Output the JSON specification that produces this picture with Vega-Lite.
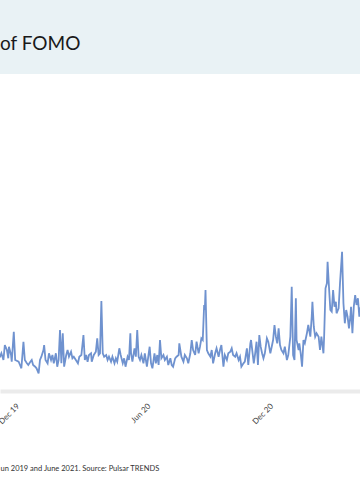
{
  "$schema": "https://vega.github.io/schema/vega-lite/v6.json",
  "width": 360,
  "height": 426,
  "autosize": {"type": "none"},
  "padding": {"top": 74, "left": 0, "right": 0, "bottom": 0},
  "background": "#e9f2f5",
  "view": {"fill": "#ffffff", "stroke": null},
  "title": {"text": "of FOMO", "anchor": "start", "frame": "group", "orient": "top", "offset": 5, "baseline": "alphabetic", "fontSize": 19, "font": "Lato", "fontWeight": "normal", "color": "#1a1a1a"},
  "data": {"values": [
    {"date": "2019-11-07", "mentions": 330},
    {"date": "2019-11-09", "mentions": 343},
    {"date": "2019-11-11", "mentions": 377},
    {"date": "2019-11-14", "mentions": 310},
    {"date": "2019-11-16", "mentions": 460},
    {"date": "2019-11-19", "mentions": 410},
    {"date": "2019-11-21", "mentions": 327},
    {"date": "2019-11-22", "mentions": 443},
    {"date": "2019-11-25", "mentions": 360},
    {"date": "2019-11-26", "mentions": 293},
    {"date": "2019-11-29", "mentions": 593},
    {"date": "2019-12-01", "mentions": 310},
    {"date": "2019-12-06", "mentions": 293},
    {"date": "2019-12-08", "mentions": 260},
    {"date": "2019-12-10", "mentions": 227},
    {"date": "2019-12-13", "mentions": 493},
    {"date": "2019-12-15", "mentions": 310},
    {"date": "2019-12-18", "mentions": 277},
    {"date": "2019-12-20", "mentions": 260},
    {"date": "2019-12-23", "mentions": 293},
    {"date": "2019-12-25", "mentions": 310},
    {"date": "2019-12-27", "mentions": 260},
    {"date": "2019-12-30", "mentions": 243},
    {"date": "2020-01-01", "mentions": 227},
    {"date": "2020-01-04", "mentions": 177},
    {"date": "2020-01-06", "mentions": 310},
    {"date": "2020-01-08", "mentions": 343},
    {"date": "2020-01-11", "mentions": 410},
    {"date": "2020-01-12", "mentions": 460},
    {"date": "2020-01-14", "mentions": 310},
    {"date": "2020-01-17", "mentions": 277},
    {"date": "2020-01-19", "mentions": 377},
    {"date": "2020-01-22", "mentions": 310},
    {"date": "2020-01-24", "mentions": 360},
    {"date": "2020-01-26", "mentions": 277},
    {"date": "2020-01-29", "mentions": 377},
    {"date": "2020-01-31", "mentions": 243},
    {"date": "2020-02-02", "mentions": 310},
    {"date": "2020-02-04", "mentions": 610},
    {"date": "2020-02-06", "mentions": 277},
    {"date": "2020-02-08", "mentions": 577},
    {"date": "2020-02-10", "mentions": 243},
    {"date": "2020-02-13", "mentions": 360},
    {"date": "2020-02-15", "mentions": 410},
    {"date": "2020-02-17", "mentions": 343},
    {"date": "2020-02-20", "mentions": 393},
    {"date": "2020-02-22", "mentions": 327},
    {"date": "2020-02-24", "mentions": 343},
    {"date": "2020-02-27", "mentions": 310},
    {"date": "2020-03-01", "mentions": 277},
    {"date": "2020-03-03", "mentions": 343},
    {"date": "2020-03-06", "mentions": 360},
    {"date": "2020-03-09", "mentions": 560},
    {"date": "2020-03-11", "mentions": 310},
    {"date": "2020-03-13", "mentions": 360},
    {"date": "2020-03-15", "mentions": 293},
    {"date": "2020-03-17", "mentions": 360},
    {"date": "2020-03-20", "mentions": 377},
    {"date": "2020-03-21", "mentions": 293},
    {"date": "2020-03-24", "mentions": 360},
    {"date": "2020-03-27", "mentions": 393},
    {"date": "2020-03-29", "mentions": 527},
    {"date": "2020-03-31", "mentions": 360},
    {"date": "2020-04-02", "mentions": 377},
    {"date": "2020-04-04", "mentions": 900},
    {"date": "2020-04-06", "mentions": 377},
    {"date": "2020-04-08", "mentions": 343},
    {"date": "2020-04-11", "mentions": 360},
    {"date": "2020-04-13", "mentions": 310},
    {"date": "2020-04-15", "mentions": 343},
    {"date": "2020-04-18", "mentions": 293},
    {"date": "2020-04-20", "mentions": 343},
    {"date": "2020-04-23", "mentions": 277},
    {"date": "2020-04-25", "mentions": 327},
    {"date": "2020-04-27", "mentions": 293},
    {"date": "2020-04-30", "mentions": 427},
    {"date": "2020-05-02", "mentions": 360},
    {"date": "2020-05-05", "mentions": 277},
    {"date": "2020-05-07", "mentions": 327},
    {"date": "2020-05-09", "mentions": 243},
    {"date": "2020-05-12", "mentions": 343},
    {"date": "2020-05-14", "mentions": 310},
    {"date": "2020-05-16", "mentions": 577},
    {"date": "2020-05-17", "mentions": 377},
    {"date": "2020-05-19", "mentions": 293},
    {"date": "2020-05-22", "mentions": 427},
    {"date": "2020-05-24", "mentions": 343},
    {"date": "2020-05-26", "mentions": 610},
    {"date": "2020-05-28", "mentions": 343},
    {"date": "2020-05-30", "mentions": 310},
    {"date": "2020-06-01", "mentions": 360},
    {"date": "2020-06-04", "mentions": 277},
    {"date": "2020-06-06", "mentions": 377},
    {"date": "2020-06-09", "mentions": 243},
    {"date": "2020-06-11", "mentions": 343},
    {"date": "2020-06-13", "mentions": 443},
    {"date": "2020-06-15", "mentions": 277},
    {"date": "2020-06-17", "mentions": 227},
    {"date": "2020-06-20", "mentions": 377},
    {"date": "2020-06-22", "mentions": 277},
    {"date": "2020-06-24", "mentions": 360},
    {"date": "2020-06-26", "mentions": 260},
    {"date": "2020-06-28", "mentions": 510},
    {"date": "2020-06-30", "mentions": 327},
    {"date": "2020-07-03", "mentions": 360},
    {"date": "2020-07-05", "mentions": 310},
    {"date": "2020-07-08", "mentions": 343},
    {"date": "2020-07-10", "mentions": 260},
    {"date": "2020-07-13", "mentions": 327},
    {"date": "2020-07-15", "mentions": 260},
    {"date": "2020-07-17", "mentions": 243},
    {"date": "2020-07-20", "mentions": 327},
    {"date": "2020-07-22", "mentions": 343},
    {"date": "2020-07-25", "mentions": 360},
    {"date": "2020-07-26", "mentions": 477},
    {"date": "2020-07-29", "mentions": 343},
    {"date": "2020-08-01", "mentions": 293},
    {"date": "2020-08-03", "mentions": 360},
    {"date": "2020-08-06", "mentions": 327},
    {"date": "2020-08-08", "mentions": 277},
    {"date": "2020-08-11", "mentions": 377},
    {"date": "2020-08-13", "mentions": 510},
    {"date": "2020-08-15", "mentions": 410},
    {"date": "2020-08-18", "mentions": 360},
    {"date": "2020-08-20", "mentions": 493},
    {"date": "2020-08-23", "mentions": 377},
    {"date": "2020-08-25", "mentions": 443},
    {"date": "2020-08-27", "mentions": 527},
    {"date": "2020-08-29", "mentions": 510},
    {"date": "2020-08-31", "mentions": 860},
    {"date": "2020-09-01", "mentions": 810},
    {"date": "2020-09-02", "mentions": 1010},
    {"date": "2020-09-04", "mentions": 410},
    {"date": "2020-09-06", "mentions": 377},
    {"date": "2020-09-09", "mentions": 343},
    {"date": "2020-09-11", "mentions": 410},
    {"date": "2020-09-13", "mentions": 277},
    {"date": "2020-09-16", "mentions": 377},
    {"date": "2020-09-18", "mentions": 427},
    {"date": "2020-09-21", "mentions": 343},
    {"date": "2020-09-23", "mentions": 410},
    {"date": "2020-09-25", "mentions": 460},
    {"date": "2020-09-28", "mentions": 243},
    {"date": "2020-09-30", "mentions": 360},
    {"date": "2020-10-03", "mentions": 310},
    {"date": "2020-10-05", "mentions": 377},
    {"date": "2020-10-08", "mentions": 393},
    {"date": "2020-10-10", "mentions": 427},
    {"date": "2020-10-12", "mentions": 360},
    {"date": "2020-10-15", "mentions": 343},
    {"date": "2020-10-17", "mentions": 377},
    {"date": "2020-10-20", "mentions": 310},
    {"date": "2020-10-22", "mentions": 343},
    {"date": "2020-10-24", "mentions": 243},
    {"date": "2020-10-27", "mentions": 277},
    {"date": "2020-10-29", "mentions": 293},
    {"date": "2020-11-01", "mentions": 427},
    {"date": "2020-11-03", "mentions": 260},
    {"date": "2020-11-06", "mentions": 477},
    {"date": "2020-11-07", "mentions": 510},
    {"date": "2020-11-09", "mentions": 393},
    {"date": "2020-11-11", "mentions": 277},
    {"date": "2020-11-13", "mentions": 377},
    {"date": "2020-11-15", "mentions": 493},
    {"date": "2020-11-17", "mentions": 260},
    {"date": "2020-11-19", "mentions": 560},
    {"date": "2020-11-21", "mentions": 443},
    {"date": "2020-11-23", "mentions": 377},
    {"date": "2020-11-25", "mentions": 327},
    {"date": "2020-11-27", "mentions": 377},
    {"date": "2020-11-30", "mentions": 527},
    {"date": "2020-12-02", "mentions": 493},
    {"date": "2020-12-05", "mentions": 377},
    {"date": "2020-12-07", "mentions": 443},
    {"date": "2020-12-09", "mentions": 510},
    {"date": "2020-12-11", "mentions": 660},
    {"date": "2020-12-13", "mentions": 543},
    {"date": "2020-12-15", "mentions": 477},
    {"date": "2020-12-17", "mentions": 627},
    {"date": "2020-12-19", "mentions": 460},
    {"date": "2020-12-21", "mentions": 410},
    {"date": "2020-12-24", "mentions": 377},
    {"date": "2020-12-26", "mentions": 443},
    {"date": "2020-12-29", "mentions": 310},
    {"date": "2020-12-31", "mentions": 360},
    {"date": "2021-01-03", "mentions": 543},
    {"date": "2021-01-05", "mentions": 1043},
    {"date": "2021-01-07", "mentions": 360},
    {"date": "2021-01-09", "mentions": 310},
    {"date": "2021-01-11", "mentions": 927},
    {"date": "2021-01-12", "mentions": 510},
    {"date": "2021-01-15", "mentions": 410},
    {"date": "2021-01-16", "mentions": 477},
    {"date": "2021-01-18", "mentions": 377},
    {"date": "2021-01-20", "mentions": 243},
    {"date": "2021-01-22", "mentions": 510},
    {"date": "2021-01-24", "mentions": 477},
    {"date": "2021-01-27", "mentions": 577},
    {"date": "2021-01-29", "mentions": 660},
    {"date": "2021-02-01", "mentions": 543},
    {"date": "2021-02-03", "mentions": 743},
    {"date": "2021-02-04", "mentions": 893},
    {"date": "2021-02-06", "mentions": 643},
    {"date": "2021-02-08", "mentions": 543},
    {"date": "2021-02-10", "mentions": 577},
    {"date": "2021-02-13", "mentions": 543},
    {"date": "2021-02-15", "mentions": 410},
    {"date": "2021-02-17", "mentions": 543},
    {"date": "2021-02-20", "mentions": 377},
    {"date": "2021-02-21", "mentions": 543},
    {"date": "2021-02-23", "mentions": 1027},
    {"date": "2021-02-25", "mentions": 1077},
    {"date": "2021-02-26", "mentions": 1293},
    {"date": "2021-02-28", "mentions": 1043},
    {"date": "2021-03-02", "mentions": 810},
    {"date": "2021-03-04", "mentions": 793},
    {"date": "2021-03-06", "mentions": 1010},
    {"date": "2021-03-08", "mentions": 843},
    {"date": "2021-03-10", "mentions": 893},
    {"date": "2021-03-11", "mentions": 777},
    {"date": "2021-03-14", "mentions": 827},
    {"date": "2021-03-16", "mentions": 1077},
    {"date": "2021-03-19", "mentions": 1393},
    {"date": "2021-03-21", "mentions": 877},
    {"date": "2021-03-23", "mentions": 677},
    {"date": "2021-03-25", "mentions": 810},
    {"date": "2021-03-27", "mentions": 743},
    {"date": "2021-03-29", "mentions": 627},
    {"date": "2021-03-31", "mentions": 743},
    {"date": "2021-04-01", "mentions": 843},
    {"date": "2021-04-03", "mentions": 577},
    {"date": "2021-04-05", "mentions": 843},
    {"date": "2021-04-07", "mentions": 960},
    {"date": "2021-04-09", "mentions": 860},
    {"date": "2021-04-11", "mentions": 927},
    {"date": "2021-04-13", "mentions": 743},
    {"date": "2021-04-14", "mentions": 810},
    {"date": "2021-04-16", "mentions": 780}
  ]},
  "mark": {"type": "line", "color": "#6f92cf", "strokeWidth": 1.8, "clip": true},
  "encoding": {
    "x": {
      "field": "date",
      "type": "temporal",
      "scale": {"type": "utc", "domain": [{"year": 2019, "month": 11, "date": 9, "utc": true}, {"year": 2021, "month": 4, "date": 14, "utc": true}]},
      "axis": {
        "orient": "bottom",
        "offset": -109,
        "values": [{"year": 2019, "month": 12, "date": 1, "utc": true}, {"year": 2020, "month": 6, "date": 8, "utc": true}, {"year": 2020, "month": 12, "date": 3, "utc": true}],
        "labelExpr": "utcFormat(datum.value, '%b %y')",
        "labelAngle": -45,
        "labelFontSize": 8,
        "labelFont": "Lato",
        "labelColor": "#444444",
        "labelFlush": false,
        "labelOverlap": false,
        "labelPadding": 11,
        "ticks": false,
        "grid": false,
        "domainColor": "#ebebeb",
        "domainWidth": 4,
        "title": "un 2019 and June 2021. Source: Pulsar TRENDS",
        "titleFont": "Lato",
        "titleFontSize": 7.5,
        "titleFontWeight": "normal",
        "titleColor": "#333333",
        "titleAnchor": "start",
        "titleAlign": "left",
        "titleBaseline": "alphabetic",
        "titleX": 0,
        "titleY": 79
      }
    },
    "y": {
      "field": "mentions",
      "type": "quantitative",
      "scale": {"domain": [-1090, 3170], "nice": false, "zero": false},
      "axis": null
    }
  }
}
